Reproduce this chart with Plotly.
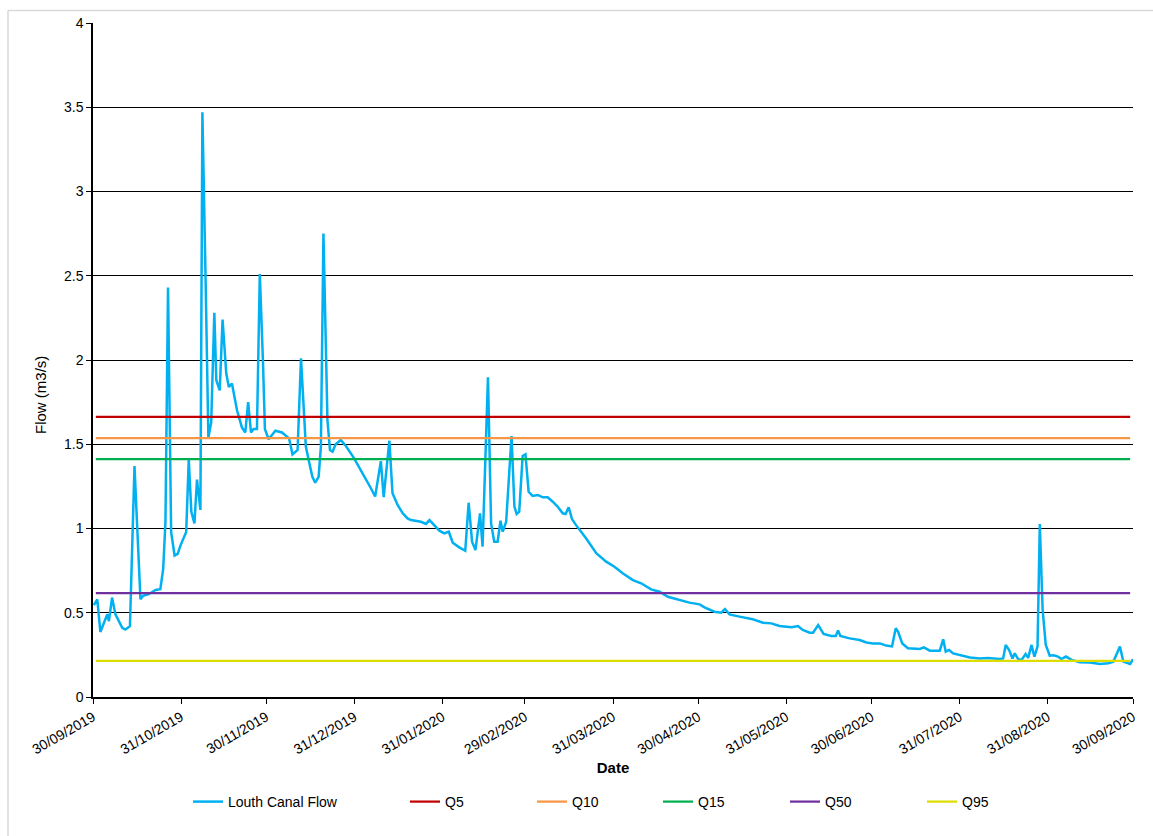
import pandas as pd
import plotly.graph_objects as go

# ---- data ----
start_date = "2019-09-30"
# days since 30/09/2019
flow_day = [0.3, 1.5, 2.6, 5.0, 5.6, 6.7, 7.9, 10.3, 11.4, 13.0, 14.6, 16.7, 17.6, 19.6, 22.0, 23.7,
            24.7, 25.5, 26.4, 27.5, 28.7, 29.8, 30.8, 32.8, 33.7, 34.6, 35.7, 36.6, 37.8, 38.5, 39.6,
            40.6, 41.6, 42.7, 43.4, 44.6, 45.6, 46.9, 47.8, 48.9, 50.7, 52.4, 53.6, 54.6, 55.6, 56.5,
            57.7, 58.7, 59.8, 60.5, 61.8, 64.2, 66.5,
            69.0, 70.2, 72.0, 73.2, 74.9, 76.1, 77.2, 78.2, 79.4, 80.2, 81.1, 82.5, 83.4, 84.3, 85.4,
            87.2, 89.0, 91.9, 94.9, 97.8, 99.3, 101.3, 102.3, 104.3, 105.4, 107.2, 109.0,
            110.7, 111.9, 115.4, 117.2, 118.4, 119.5, 121.9, 123.6, 125.2, 126.6, 128.9, 131.0, 132.2,
            133.4, 134.6, 136.2, 137.1, 139.0, 140.1, 141.2, 142.4, 143.4, 144.2, 145.4, 147.3, 148.3,
            149.1, 150.0, 151.2, 152.2, 153.3, 154.7, 156.5, 158.3, 160.0, 161.8, 163.5, 165.3, 166.3,
            167.4, 168.6, 170.0, 173.5,
            177.1, 180.6, 183.5, 186.4, 190.0, 192.9, 196.4, 199.4, 202.3, 206.4, 209.9, 213.5, 215.2,
            218.7, 221.1, 222.4, 224.0, 227.5, 232.2, 235.8, 238.7, 241.6, 245.8, 248.1, 249.8, 252.2,
            253.4, 255.2, 257.1, 259.8, 261.4, 262.2, 263.0, 266.3, 269.8,
            272.2, 274.5, 276.9, 279.2, 281.2, 282.5, 283.3, 284.8, 286.8, 289.8, 291.0, 292.4, 294.5,
            298.0, 299.2, 300.1, 301.3, 302.7, 305.0, 308.6, 312.1, 315.0,
            319.1, 320.3, 321.2, 322.4, 323.6, 324.4, 325.6, 326.8, 328.2, 329.1, 330.3, 331.3, 332.4,
            333.2, 334.2, 335.3, 336.7, 338.1, 339.6, 340.8, 342.4, 344.4, 347.3, 350.8, 354.4, 357.3,
            359.1, 361.4, 362.6, 365.0, 366.0]
flow_value = [0.545, 0.58, 0.386, 0.49, 0.45, 0.59, 0.49, 0.41, 0.40, 0.42, 1.37, 0.58, 0.60, 0.61, 0.635, 0.64,
              0.76, 1.04, 2.43, 0.98, 0.84, 0.85, 0.90, 0.98, 1.41, 1.10, 1.03, 1.29, 1.11, 3.47, 2.50,
              1.54, 1.63, 2.28, 1.88, 1.82, 2.24, 1.92, 1.84, 1.86, 1.70, 1.60, 1.57, 1.75, 1.57, 1.59,
              1.59, 2.51, 2.00, 1.59, 1.53, 1.58, 1.57,
              1.535, 1.44, 1.466, 2.01, 1.486, 1.39, 1.307, 1.272, 1.307, 1.486, 2.75, 1.644, 1.466, 1.456, 1.50,
              1.525, 1.49, 1.416, 1.33, 1.239, 1.19, 1.40, 1.186, 1.521, 1.209, 1.14, 1.09,
              1.06, 1.05, 1.04, 1.027, 1.05, 1.03, 0.987, 0.971, 0.981, 0.916, 0.888, 0.868, 1.153,
              0.922, 0.872, 1.09, 0.892, 1.897, 1.03, 0.922, 0.922, 1.046, 0.981, 1.04, 1.549, 1.13,
              1.086, 1.10, 1.43, 1.44, 1.218, 1.193, 1.199, 1.185, 1.185, 1.159, 1.13, 1.09, 1.086,
              1.126, 1.055, 1.02, 0.942,
              0.853, 0.803, 0.773, 0.734, 0.694, 0.675, 0.639, 0.625, 0.595, 0.576, 0.56, 0.55, 0.532,
              0.506, 0.50, 0.522, 0.49, 0.477, 0.461, 0.441, 0.437, 0.421, 0.414, 0.421, 0.398, 0.382,
              0.382, 0.427, 0.374, 0.362, 0.362, 0.394, 0.362, 0.348, 0.338,
              0.324, 0.318, 0.318, 0.305, 0.30, 0.408, 0.388, 0.318, 0.289, 0.289, 0.285, 0.295, 0.275,
              0.275, 0.342, 0.269, 0.279, 0.259, 0.249, 0.235, 0.229, 0.231,
              0.226, 0.229, 0.309, 0.279, 0.229, 0.259, 0.225, 0.22, 0.255, 0.232, 0.309, 0.239, 0.299,
              1.027, 0.516, 0.309, 0.245, 0.248, 0.24, 0.225, 0.24, 0.22, 0.206, 0.205, 0.196, 0.20,
              0.21, 0.299, 0.21, 0.196, 0.224]

q_names = ["Q5", "Q10", "Q15", "Q50", "Q95"]
q_values = [1.662, 1.537, 1.412, 0.617, 0.214]
q_colors = ["#C00000", "#F79646", "#00B050", "#7030A0", "#DDDD00"]
q_dates = ["2019-10-01", "2020-09-29"]

tick_dates = ["2019-09-30", "2019-10-31", "2019-11-30", "2019-12-31", "2020-01-31", "2020-02-29",
              "2020-03-31", "2020-04-30", "2020-05-31", "2020-06-30", "2020-07-31", "2020-08-31",
              "2020-09-30"]
tick_labels = ["30/09/2019", "31/10/2019", "30/11/2019", "31/12/2019", "31/01/2020", "29/02/2020",
               "31/03/2020", "30/04/2020", "31/05/2020", "30/06/2020", "31/07/2020", "31/08/2020",
               "30/09/2020"]

flow_dates = pd.Timestamp(start_date) + pd.to_timedelta(flow_day, unit="D")

# ---- layout geometry ----
W, H = 1153, 836
ML, MR, MT, MB = 93, 20, 23, 139
PW, PH = W - ML - MR, H - MT - MB

def px_x(px):
    return (px - ML) / PW

def px_y(py):
    return (H - MB - py) / PH

FONT = "Liberation Sans, Arial, sans-serif"

fig = go.Figure()
fig.add_trace(go.Scatter(x=flow_dates, y=flow_value, mode="lines", name="Louth Canal Flow",
                         line=dict(color="#00B0F0", width=2.5), legend="legend"))
legend_ids = ["legend2", "legend3", "legend4", "legend5", "legend6"]
for name, val, col, lg in zip(q_names, q_values, q_colors, legend_ids):
    fig.add_trace(go.Scatter(x=q_dates, y=[val, val], mode="lines", name=name,
                             line=dict(color=col, width=2.25), legend=lg))

# legend sample start positions (px)
legend_px = [193, 410, 537, 663, 790, 927]
legend_y = px_y(802)
leg_common = dict(orientation="h", yanchor="middle", y=legend_y, xanchor="left",
                  bgcolor="rgba(0,0,0,0)", font=dict(family=FONT, size=14, color="#000000"),
                  itemwidth=30, borderwidth=0)
legends = {}
for key, px in zip(["legend"] + legend_ids, legend_px):
    legends[key] = dict(x=px_x(px - 5), **leg_common)

fig.update_layout(
    width=W, height=H,
    margin=dict(l=ML, r=MR, t=MT, b=MB),
    paper_bgcolor="white", plot_bgcolor="white",
    font=dict(family=FONT, size=14, color="#000000"),
    showlegend=True,
    **legends,
    xaxis=dict(
        type="date",
        range=[tick_dates[0], tick_dates[-1]],
        tickmode="array", tickvals=tick_dates, ticktext=tick_labels,
        tickangle=-30, ticks="outside", ticklen=5, tickcolor="black",
        showline=True, linecolor="black", linewidth=1.5,
        showgrid=False, zeroline=False,
        tickfont=dict(family=FONT, size=14, color="#000000"),
        title=dict(text="<b>Date</b>", font=dict(family=FONT, size=15, color="#000000"), standoff=6),
    ),
    yaxis=dict(
        range=[0, 4], dtick=0.5, tick0=0,
        ticks="outside", ticklen=5, tickcolor="black",
        showline=True, linecolor="black", linewidth=1.5,
        showgrid=True, gridcolor="black", gridwidth=1,
        zeroline=False,
        tickfont=dict(family=FONT, size=14, color="#000000"),
    ),
    annotations=[
        dict(text="Flow (m3/s)", xref="paper", yref="paper", x=px_x(40), y=px_y(395),
             xanchor="center", yanchor="middle", textangle=-90, showarrow=False,
             font=dict(family=FONT, size=15, color="#000000")),
    ],
    shapes=[
        dict(type="line", xref="paper", yref="paper", x0=px_x(8), x1=px_x(W), y0=px_y(10.5), y1=px_y(10.5),
             line=dict(color="#D9D9D9", width=1.5)),
        dict(type="line", xref="paper", yref="paper", x0=px_x(8), x1=px_x(8), y0=px_y(10.5), y1=px_y(H),
             line=dict(color="#D9D9D9", width=1.5)),
    ],
)

fig.write_html("out.html")
